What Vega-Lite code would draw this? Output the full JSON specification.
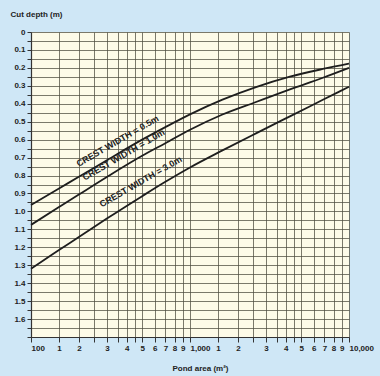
{
  "$schema": "https://vega.github.io/schema/vega-lite/v6.json",
  "width": 318,
  "height": 305,
  "autosize": {"type": "none"},
  "padding": {"left": 31, "top": 32, "right": 31, "bottom": 39},
  "background": "#cfe7f6",
  "view": {"fill": "#fdfbe8", "stroke": null},
  "config": {"font": "Liberation Sans"},
  "datasets": {
    "curves": [
      {"crest": "0.5", "area": 100, "depth": 0.964},
      {"crest": "0.5", "area": 150, "depth": 0.872},
      {"crest": "0.5", "area": 200, "depth": 0.807},
      {"crest": "0.5", "area": 300, "depth": 0.715},
      {"crest": "0.5", "area": 500, "depth": 0.6},
      {"crest": "0.5", "area": 700, "depth": 0.53},
      {"crest": "0.5", "area": 1000, "depth": 0.459},
      {"crest": "0.5", "area": 1600, "depth": 0.377},
      {"crest": "0.5", "area": 2600, "depth": 0.307},
      {"crest": "0.5", "area": 4250, "depth": 0.249},
      {"crest": "0.5", "area": 6850, "depth": 0.206},
      {"crest": "0.5", "area": 10000, "depth": 0.176},
      {"crest": "1.0", "area": 100, "depth": 1.075},
      {"crest": "1.0", "area": 150, "depth": 0.976},
      {"crest": "1.0", "area": 200, "depth": 0.906},
      {"crest": "1.0", "area": 300, "depth": 0.808},
      {"crest": "1.0", "area": 500, "depth": 0.69},
      {"crest": "1.0", "area": 700, "depth": 0.62},
      {"crest": "1.0", "area": 1000, "depth": 0.545},
      {"crest": "1.0", "area": 1600, "depth": 0.46},
      {"crest": "1.0", "area": 2600, "depth": 0.39},
      {"crest": "1.0", "area": 4250, "depth": 0.32},
      {"crest": "1.0", "area": 6850, "depth": 0.255},
      {"crest": "1.0", "area": 10000, "depth": 0.2},
      {"crest": "3.0", "area": 100, "depth": 1.32},
      {"crest": "3.0", "area": 150, "depth": 1.215},
      {"crest": "3.0", "area": 200, "depth": 1.143},
      {"crest": "3.0", "area": 300, "depth": 1.04},
      {"crest": "3.0", "area": 500, "depth": 0.915},
      {"crest": "3.0", "area": 700, "depth": 0.835},
      {"crest": "3.0", "area": 1000, "depth": 0.755},
      {"crest": "3.0", "area": 1600, "depth": 0.66},
      {"crest": "3.0", "area": 2600, "depth": 0.565},
      {"crest": "3.0", "area": 4250, "depth": 0.47},
      {"crest": "3.0", "area": 6850, "depth": 0.378},
      {"crest": "3.0", "area": 10000, "depth": 0.305}
    ],
    "labels": [
      {"label": "CREST WIDTH = 0.5m", "area": 350, "depth": 0.608},
      {"label": "CREST WIDTH = 1.0m", "area": 382, "depth": 0.684},
      {"label": "CREST WIDTH = 3.0m", "area": 490, "depth": 0.834}
    ]
  },
  "encoding": {
    "x": {
      "field": "area",
      "type": "quantitative",
      "scale": {"type": "log", "domain": [100, 10000], "nice": false},
      "axis": {
        "title": "Pond area (m²)",
        "titleFont": "Liberation Sans",
        "titleFontSize": 8,
        "titleFontWeight": "bold",
        "titleColor": "#222",
        "titleX": 169,
        "titleY": 31,
        "titleAlign": "center",
        "titleBaseline": "middle",
        "values": [100, 150, 200, 250, 300, 350, 400, 450, 500, 600, 700, 800, 900, 1000, 1500, 2000, 2500, 3000, 3500, 4000, 4500, 5000, 6000, 7000, 8000, 9000, 10000],
        "labelExpr": "datum.value == 100 ? '100' : datum.value == 1000 ? '1,000' : datum.value == 10000 ? '10,000' : (datum.value == 150 || datum.value == 1500) ? '1' : indexof([250, 350, 450, 2500, 3500, 4500], datum.value) >= 0 ? '' : format(datum.value < 1000 ? datum.value / 100 : datum.value / 1000, 'd')",
        "labelAlign": {"condition": {"test": "datum.value == 100 || datum.value == 10000 || datum.value == 1000", "value": "left"}, "value": "center"},
        "labelFontSize": 8,
        "labelFontWeight": "bold",
        "labelColor": "#222",
        "labelPadding": 2,
        "labelOverlap": false,
        "labelBound": false,
        "labelFlush": false,
        "tickSize": 5,
        "tickColor": "#333",
        "domainColor": "#333",
        "domainWidth": 1.2,
        "grid": true,
        "gridColor": "#4d4d40",
        "gridOpacity": 0.75,
        "gridWidth": 1
      }
    },
    "y": {
      "field": "depth",
      "type": "quantitative",
      "scale": {"domain": [0, 1.7], "reverse": true, "nice": false, "zero": false},
      "axis": {
        "title": "Cut depth (m)",
        "titleFont": "Liberation Sans",
        "titleFontSize": 8,
        "titleFontWeight": "bold",
        "titleColor": "#222",
        "titleAngle": 0,
        "titleAlign": "left",
        "titleBaseline": "middle",
        "titleX": -21,
        "titleY": -18,
        "values": [0, 0.05, 0.1, 0.15, 0.2, 0.25, 0.3, 0.35, 0.4, 0.45, 0.5, 0.55, 0.6, 0.65, 0.7, 0.75, 0.8, 0.85, 0.9, 0.95, 1.0, 1.05, 1.1, 1.15, 1.2, 1.25, 1.3, 1.35, 1.4, 1.45, 1.5, 1.55, 1.6, 1.65, 1.7],
        "labelExpr": "datum.value > 1.62 || abs(datum.value * 10 - round(datum.value * 10)) > 0.01 ? '' : (datum.value == 0 ? '0' : format(datum.value, '.1f'))",
        "labelFontSize": 8,
        "labelFontWeight": "bold",
        "labelColor": "#222",
        "labelPadding": 2,
        "labelOverlap": false,
        "labelBound": false,
        "labelFlush": false,
        "tickSize": 4,
        "tickColor": "#333",
        "domainColor": "#333",
        "domainWidth": 1.2,
        "grid": true,
        "gridColor": "#4d4d40",
        "gridOpacity": 0.75,
        "gridWidth": 1
      }
    }
  },
  "layer": [
    {
      "data": {"name": "curves"},
      "mark": {"type": "line", "interpolate": "monotone", "color": "#1e1e1e", "strokeWidth": 1.8},
      "encoding": {
        "detail": {"field": "crest", "type": "nominal"}
      }
    },
    {
      "data": {"name": "labels"},
      "mark": {"type": "text", "angle": -30, "font": "Liberation Sans", "fontSize": 9, "fontWeight": "bold", "color": "#222", "align": "center", "baseline": "middle"},
      "encoding": {
        "text": {"field": "label", "type": "nominal"}
      }
    }
  ]
}
